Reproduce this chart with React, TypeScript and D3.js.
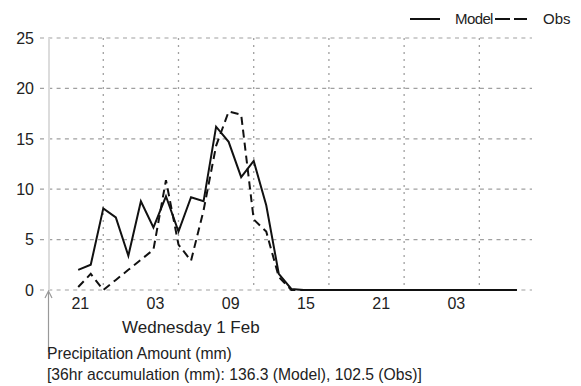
import React from "react";
import * as d3 from "d3";

// Hourly precipitation (mm), hours relative to the first grid line
const hours = [-2, -1, 0, 1, 2, 3, 4, 5, 6, 7, 8, 9, 10, 11, 12, 13, 14, 15, 16, 17, 18, 19, 20, 21, 22, 23, 24, 25, 26, 27, 28, 29, 30, 31, 32, 33];
const modelValues = [2.0, 2.5, 8.1, 7.2, 3.4, 8.8, 6.2, 9.3, 5.8, 9.2, 8.8, 16.2, 14.7, 11.2, 12.8, 8.4, 1.6, 0.1, 0, 0, 0, 0, 0, 0, 0, 0, 0, 0, 0, 0, 0, 0, 0, 0, 0, 0];
const obsValues = [0.3, 1.6, 0, 1.0, 2.0, 3.0, 4.0, 10.9, 4.5, 2.9, 7.9, 14.3, 17.7, 17.4, 7.0, 5.8, 1.3, 0, 0, 0, 0, 0, 0, 0, 0, 0, 0, 0, 0, 0, 0, 0, 0, 0, 0, 0];

const gridHours = [0, 6, 12, 18, 24, 30];
const tickLabels = ["21", "03", "09", "15", "21", "03"];
const yTicks = [0, 5, 10, 15, 20, 25];

const dayLabel = "Wednesday 1 Feb";
const titleLine = "Precipitation Amount (mm)";
const totalLine = "[36hr accumulation (mm): 136.3 (Model), 102.5 (Obs)]";

const W = 581;
const H = 386;
const FONT = "'Liberation Sans', Arial, Helvetica, sans-serif";

export default function App() {
  const x = d3.scaleLinear().domain([-4.33, 34.2]).range([49, 532]);
  const y = d3.scaleLinear().domain([0, 25]).range([290, 38]);

  const line = d3
    .line<number>()
    .x((_, i) => x(hours[i]))
    .y((d) => y(d));

  const gridGray = "#a0a0a0";
  const labelShift = -23;

  return (
    <svg
      width={W}
      height={H}
      style={{ position: "absolute", left: 0, top: 0, background: "#fff" }}
      fontFamily={FONT}
    >
      {/* horizontal grid with tick stubs */}
      {yTicks.map((v) => (
        <g key={"y" + v}>
          <line
            x1={40}
            x2={532}
            y1={y(v)}
            y2={y(v)}
            stroke={gridGray}
            strokeWidth={1.2}
            strokeDasharray="4,4.3"
          />
          <text
            x={34}
            y={y(v)}
            dy="0.36em"
            textAnchor="end"
            fontSize={16}
            fill="#222"
          >
            {v}
          </text>
        </g>
      ))}

      {/* vertical grid */}
      {gridHours.map((h, i) => (
        <g key={"x" + i}>
          <line
            x1={x(h)}
            x2={x(h)}
            y1={y(25)}
            y2={y(0)}
            stroke={gridGray}
            strokeWidth={1.3}
            strokeDasharray="2,5"
          />
          <text
            x={x(h) + labelShift}
            y={309}
            textAnchor="middle"
            fontSize={16}
            fill="#222"
          >
            {tickLabels[i]}
          </text>
        </g>
      ))}

      {/* left axis */}
      <line x1={49} x2={49} y1={y(25)} y2={y(0)} stroke="#dcdcdc" strokeWidth={2} />

      {/* now marker arrow */}
      <line x1={48.5} x2={48.5} y1={292} y2={352} stroke="#999" strokeWidth={1.2} />
      <path d="M45,298 L48.5,291 L52,298" fill="none" stroke="#999" strokeWidth={1.2} />

      {/* series */}
      <path d={line(obsValues) ?? ""} fill="none" stroke="#111" strokeWidth={2} strokeDasharray="8,5" />
      <path d={line(modelValues) ?? ""} fill="none" stroke="#111" strokeWidth={2} />

      {/* legend */}
      <line x1={410} x2={440} y1={19} y2={19} stroke="#111" strokeWidth={2} />
      <text x={455} y={24} fontSize={15} fill="#222" letterSpacing={-0.6}>Model</text>
      <line x1={495} x2={527} y1={19} y2={19} stroke="#111" strokeWidth={2} strokeDasharray="15,4" />
      <text x={543} y={24} fontSize={15} fill="#222">Obs</text>

      {/* footer text */}
      <text x={122} y={333} fontSize={17} fill="#222">{dayLabel}</text>
      <text x={47} y={359} fontSize={15.7} fill="#222">{titleLine}</text>
      <text x={47} y={380} fontSize={15.7} fill="#222">{totalLine}</text>
    </svg>
  );
}
